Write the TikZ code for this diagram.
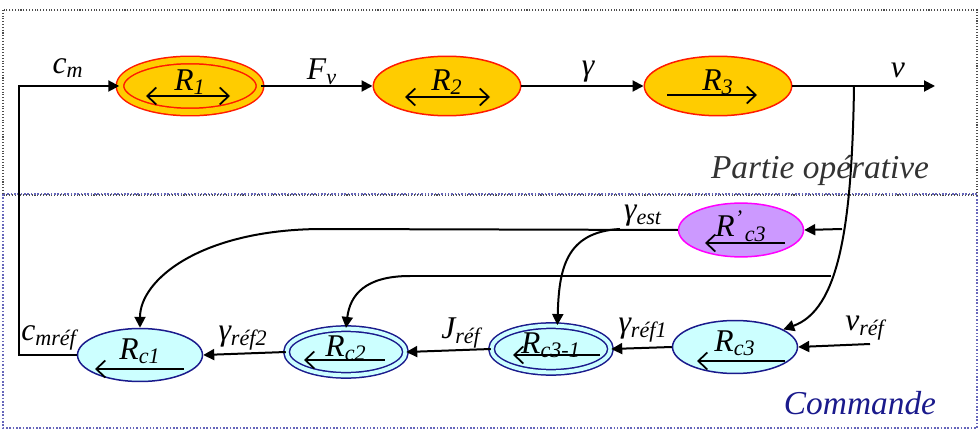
\documentclass[tikz,border=0pt]{standalone}
\usepackage{fontspec}
\setmainfont{Liberation Serif}
\usetikzlibrary{arrows.meta,shapes.geometric,positioning,calc}

\definecolor{jaune}{HTML}{FFCC00}
\definecolor{rouge}{HTML}{FF1A00}
\definecolor{cyanclair}{HTML}{CCFFFF}
\definecolor{bleunuit}{HTML}{1A1A8C}
\definecolor{mauve}{HTML}{CC99FF}
\definecolor{rose}{HTML}{FF00FF}
\definecolor{pointille}{HTML}{6666BB}

\tikzset{
  fleche/.style={-{Triangle[length=2.2mm,width=2.2mm]}, line width=0.04cm},
  trait/.style={line width=0.04cm},
  sens/.style={line width=0.035cm, >={Straight Barb[length=1.8mm,width=3.4mm]}},
  ope/.style={ellipse, draw=rouge, fill=jaune, line width=0.03cm, inner sep=0pt,
    minimum width=2.95cm, minimum height=1.19cm, text depth=7pt},
  opedouble/.style={ope, double=jaune, double distance=0.12cm,
    minimum width=2.8cm, minimum height=1.04cm},
  com/.style={ellipse, draw=bleunuit, fill=cyanclair, line width=0.03cm, inner sep=0pt,
    minimum width=2.5cm, minimum height=1.06cm, text depth=7pt},
  comdouble/.style={com, double=cyanclair, double distance=0.08cm,
    minimum width=2.38cm, minimum height=0.92cm},
  estim/.style={com, draw=rose, fill=mauve}
}

\begin{document}
\begin{tikzpicture}[x=0.02cm, y=-0.02cm,
    every node/.style={font=\fontsize{18}{21}\selectfont\itshape}]
    \useasboundingbox (0,0) rectangle (980,432);
    \draw[densely dotted, gray!60!black, line width=0.6pt] (3,10) rectangle (977,195);
    \draw[densely dotted, pointille, line width=0.9pt] (3,194) rectangle (977,428);
    \node[font=\fontsize{19}{22}\selectfont\itshape, text=black!80] (partop) at (820,170) {Partie opérative};
    \node[font=\fontsize{19}{22}\selectfont\itshape, text=bleunuit] (partcom) at (860,403) {Commande};

    \node[opedouble] (R1) at (190,86) {R\textsubscript{1}};
    \node[ope] (R2) at (447,86) {R\textsubscript{2}};
    \node[ope] (R3) at (718,86) {R\textsubscript{3}};
    \node[com] (Rc1) at (140,355) {R\textsubscript{c1}};
    \node[comdouble] (Rc2) at (346,352) {R\textsubscript{c2}};
    \node[comdouble] (Rc31) at (551,349) {R\textsubscript{c3-1}};
    \node[com] (Rc3) at (735,347) {R\textsubscript{c3}};
    \node[estim] (Rpc3) at (741,230) {R\textsuperscript{'}\kern1pt\textsubscript{c3}};

    \draw[sens, <->] ($(R1)+(-44,10)$) -- ($(R1)+(40,10)$);
    \draw[sens, <->] ($(R2)+(-42,11)$) -- ($(R2)+(43,11)$);
    \draw[sens, ->] ($(R3)+(-51,9)$) -- ($(R3)+(39,9)$);
    \draw[sens, ->] ($(Rc1)+(44,14)$) -- ($(Rc1)+(-45,14)$);
    \draw[sens, ->] ($(Rc2)+(39,8)$) -- ($(Rc2)+(-42,8)$);
    \draw[sens, ->] ($(Rc31)+(49,6)$) -- ($(Rc31)+(-38,6)$);
    \draw[sens, ->] ($(Rc3)+(50,14)$) -- ($(Rc3)+(-38,14)$);
    \draw[sens, ->] ($(Rpc3)+(44,13)$) -- ($(Rpc3)+(-36,13)$);

    \coordinate (retour) at (19,86);
    \coordinate (vtap) at (854,86);
    \coordinate (vout) at (935,86);
    \coordinate (vin) at (870,344);
    \coordinate (tapA) at (842,229);
    \coordinate (tapB) at (831,276);
    \coordinate (coudeA) at (320,229);
    \coordinate (coudeB) at (410,276);
    \coordinate (gtap) at (620,229);

    \draw[fleche] (R1) -- (R2);
    \draw[fleche] (R2) -- (R3);
    \draw[fleche] (R3) -- (vout);
    \draw[fleche] (vtap) .. controls (852,230) and (838,310) .. (Rc3.20);
    \draw[fleche] (tapA) -- (Rpc3.east);
    \draw[fleche] (vin) -- (Rc3.east);
    \draw[fleche] (Rc3.west) -- (Rc31.east);
    \draw[fleche] (Rc31.west) -- (Rc2.east);
    \draw[fleche] (Rc2.west) -- (Rc1.east);
    \draw[fleche] (Rc1.west) -| (retour) -- (R1.west);
    \draw[trait] (Rpc3.west) -- (coudeA);
    \draw[fleche] (coudeA) .. controls (200,230) and (140,280) .. (Rc1.north);
    \draw[fleche] (gtap) .. controls (565,232) and (559,270) .. (Rc31.75);
    \draw[trait] (tapB) -- (coudeB);
    \draw[fleche] (coudeB) .. controls (365,276) and (350,295) .. (Rc2.north);

    \node (lcm) at (68,68) {c\textsubscript{m}};
    \node (lFv) at (322,72) {F\textsubscript{v}};
    \node (lgam) at (588,72) {γ};
    \node (lv) at (898,70) {v};
    \node (lcmref) at (49,338) {c\textsubscript{mréf}};
    \node (lgref2) at (243,338) {γ\textsubscript{réf2}};
    \node (lJref) at (461,333) {J\textsubscript{réf}};
    \node (lgref1) at (643,330) {γ\textsubscript{réf1}};
    \node (lvref) at (865,328) {v\textsubscript{réf}};
    \node (lgest) at (643,216) {γ\textsubscript{est}};
\end{tikzpicture}
\end{document}
